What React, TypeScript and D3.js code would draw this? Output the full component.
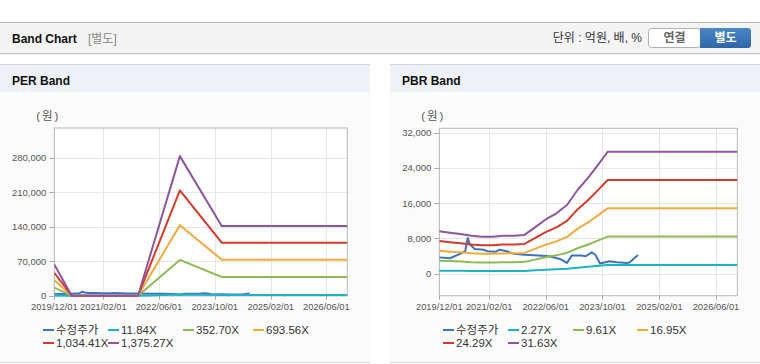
import * as d3 from "d3";

// ---- data ----
const xTickDates = ["2019-12-01", "2021-02-01", "2022-06-01", "2023-10-01", "2025-02-01", "2026-06-01"];
const xTickLabels = ["2019/12/01", "2021/02/01", "2022/06/01", "2023/10/01", "2025/02/01", "2026/06/01"];
const xStart = "2019-12-01";
const xEnd = "2026-12-01";

// 수정주가 (adjusted price)
const priceDates = [
  "2019-12-01", "2020-03-01", "2020-06-01", "2020-07-10", "2020-08-01", "2020-08-20", "2020-10-01",
  "2020-12-15", "2021-01-15", "2021-04-01", "2021-05-01", "2021-07-01", "2021-09-01", "2021-12-01",
  "2022-04-01", "2022-07-01", "2022-10-01", "2022-12-01", "2023-01-10", "2023-04-01", "2023-05-10",
  "2023-07-01", "2023-08-01", "2023-09-10", "2023-12-01", "2024-02-01", "2024-05-01", "2024-05-20",
  "2024-08-01",
];
const priceValues = [
  3700, 3500, 4550, 5100, 8100, 6600, 5600,
  5450, 5100, 5000, 5450, 5100, 4500, 4300,
  4100, 3950, 3350, 2450, 4100, 4100, 3950,
  4850, 4300, 2300, 2800, 2600, 2450, 2550,
  4250,
];

// PER band
const perDates = ["2019-12-01", "2020-05-01", "2021-12-01", "2022-12-01", "2023-12-01", "2026-12-01"];
const per1184 = [550, 0, 0, 2400, 1200, 1200];
const per35270 = [16500, 0, 0, 72500, 38000, 38000];
const per69356 = [31500, 0, 0, 143000, 73000, 73000];
const per103441 = [46500, 0, 0, 213500, 107500, 107500];
const per137527 = [63500, 0, 0, 283000, 141500, 141500];
const perYTicks = [0, 70000, 140000, 210000, 280000];
const perLegend = ["수정주가", "11.84X", "352.70X", "693.56X", "1,034.41X", "1,375.27X"];

// PBR band
const pbrDates = [
  "2019-12-01", "2020-03-01", "2020-06-01", "2020-09-01", "2020-12-01", "2021-03-01", "2021-06-01",
  "2021-09-01", "2021-12-01", "2022-03-01", "2022-06-01", "2022-09-01", "2022-12-01", "2023-03-01",
  "2023-06-01", "2023-09-01", "2023-11-15", "2026-12-01",
];
const pbr227 = [690, 670, 650, 620, 600, 600, 620, 620, 630, 750, 880, 980, 1120, 1360, 1560, 1800, 1990, 1990];
const pbr961 = [2950, 2850, 2750, 2600, 2550, 2550, 2600, 2600, 2680, 3190, 3740, 4160, 4740, 5770, 6620, 7600, 8420, 8420];
const pbr1695 = [5200, 5000, 4850, 4620, 4500, 4500, 4600, 4620, 4720, 5630, 6590, 7340, 8360, 10180, 11680, 13400, 14850, 14850];
const pbr2429 = [7400, 7150, 6900, 6600, 6450, 6450, 6600, 6600, 6760, 8060, 9450, 10520, 11980, 14590, 16740, 19200, 21250, 21250];
const pbr3163 = [9650, 9300, 9000, 8600, 8400, 8400, 8600, 8600, 8800, 10500, 12300, 13700, 15600, 19000, 21800, 25000, 27680, 27680];
const pbrYTicks = [0, 8000, 16000, 24000, 32000];
const pbrLegend = ["수정주가", "2.27X", "9.61X", "16.95X", "24.29X", "31.63X"];

const colors = ["#3b73c0", "#1fb2c6", "#8dba55", "#f2aa3c", "#d23a2b", "#8d559d"];

const FONT = "'Liberation Sans', Arial, 'Noto Sans CJK KR', sans-serif";
const parse = d3.timeParse("%Y-%m-%d");

type Series = { dates: string[]; values: number[] };

type ChartProps = {
  panelX: number;
  title: string;
  left: number;
  right: number;
  top: number;
  bottom: number;
  yDomain: [number, number];
  yTicks: number[];
  series: Series[];
  legend: string[];
  legendCols: number[];
  clipId: string;
};

const Panel = (p: ChartProps) => {
  const x = d3
    .scaleTime()
    .domain([parse(xStart)!, parse(xEnd)!])
    .range([p.left, p.right]);
  const y = d3.scaleLinear().domain(p.yDomain).range([p.bottom, p.top]);
  const line = d3
    .line<[Date, number]>()
    .x((d) => x(d[0]))
    .y((d) => y(d[1]));
  const fmt = d3.format(",");

  return (
    <g fontFamily={FONT}>
      {/* panel frame */}
      <rect x={p.panelX} y={64} width={370} height={298} fill="#fbfbfb" />
      <rect x={p.panelX} y={64.5} width={370} height={27.5} fill="#eef2f7" />
      <line x1={p.panelX} x2={p.panelX + 370} y1={64.5} y2={64.5} stroke="#d6d6d6" />
      <line x1={p.panelX} x2={p.panelX + 370} y1={362.5} y2={362.5} stroke="#dcdcdc" />
      <text x={p.panelX + 12} y={84.5} fontSize={12} fontWeight="bold" fill="#111">
        {p.title}
      </text>

      <text x={p.left - 6} y={120} fontSize={11.5} fill="#555" textAnchor="middle" letterSpacing={2}>
        (원)
      </text>

      {/* grid */}
      <rect x={p.left} y={p.top} width={p.right - p.left} height={p.bottom - p.top} fill="#fff" />
      {xTickDates.map((d) => (
        <line
          key={d}
          x1={Math.round(x(parse(d)!)) + 0.5}
          x2={Math.round(x(parse(d)!)) + 0.5}
          y1={p.top}
          y2={p.bottom}
          stroke="#e6e6e6"
        />
      ))}
      {p.yTicks.map((t) => (
        <line
          key={t}
          x1={p.left}
          x2={p.right}
          y1={Math.round(y(t)) + 0.5}
          y2={Math.round(y(t)) + 0.5}
          stroke="#e6e6e6"
        />
      ))}
      <rect
        x={p.left}
        y={p.top}
        width={p.right - p.left}
        height={p.bottom - p.top}
        fill="none"
        stroke="#b8b8b8"
      />

      {/* y axis */}
      {p.yTicks.map((t) => (
        <g key={t}>
          <line x1={p.left - 5} x2={p.left} y1={Math.round(y(t)) + 0.5} y2={Math.round(y(t)) + 0.5} stroke="#aaa" />
          <text x={p.left - 8} y={y(t) + 3.5} fontSize={9.5} fill="#555" textAnchor="end">
            {fmt(t)}
          </text>
        </g>
      ))}

      {/* x axis */}
      {xTickDates.map((d, i) => (
        <g key={d}>
          <line
            x1={Math.round(x(parse(d)!)) + 0.5}
            x2={Math.round(x(parse(d)!)) + 0.5}
            y1={p.bottom}
            y2={p.bottom + 4}
            stroke="#aaa"
          />
          <text x={x(parse(d)!)} y={p.bottom + 14.5} fontSize={9.3} fill="#555" textAnchor="middle">
            {xTickLabels[i]}
          </text>
        </g>
      ))}

      {/* lines */}
      <clipPath id={p.clipId}>
        <rect x={p.left} y={p.top} width={p.right - p.left} height={p.bottom - p.top + 2} />
      </clipPath>
      <g clipPath={`url(#${p.clipId})`}>
        {p.series.map((s, i) => (
          <path
            key={i}
            d={line(s.dates.map((d, j) => [parse(d)!, s.values[j]] as [Date, number])) || ""}
            fill="none"
            stroke={colors[i]}
            strokeWidth={2}
            strokeLinejoin="round"
          />
        ))}
      </g>

      {/* legend */}
      {p.legend.map((name, i) => {
        const lx = p.legendCols[i % 4];
        const ly = i < 4 ? 330 : 343;
        return (
          <g key={name}>
            <line x1={lx} x2={lx + 11} y1={ly} y2={ly} stroke={colors[i]} strokeWidth={2} />
            <text x={lx + 13} y={ly + 4} fontSize={11.5} fill="#333">
              {name}
            </text>
          </g>
        );
      })}
    </g>
  );
};

const App = () => {
  const priceSeries = { dates: priceDates, values: priceValues };
  const perSeries = [
    priceSeries,
    { dates: perDates, values: per1184 },
    { dates: perDates, values: per35270 },
    { dates: perDates, values: per69356 },
    { dates: perDates, values: per103441 },
    { dates: perDates, values: per137527 },
  ];
  const pbrSeries = [
    priceSeries,
    { dates: pbrDates, values: pbr227 },
    { dates: pbrDates, values: pbr961 },
    { dates: pbrDates, values: pbr1695 },
    { dates: pbrDates, values: pbr2429 },
    { dates: pbrDates, values: pbr3163 },
  ];

  return (
    <svg
      width={760}
      height={364}
      style={{ position: "absolute", left: 0, top: 0, background: "#fff" }}
    >
      <defs>
        <linearGradient id="blueBtn" x1="0" y1="0" x2="0" y2="1">
          <stop offset="0" stopColor="#4b88c8" />
          <stop offset="1" stopColor="#2d66a6" />
        </linearGradient>
      </defs>

      {/* top header bar */}
      <rect x={0} y={22} width={760} height={31} fill="#f4f4f4" />
      <line x1={0} x2={760} y1={22.5} y2={22.5} stroke="#b4b4b4" />
      <line x1={0} x2={760} y1={53.5} y2={53.5} stroke="#c4c4c4" />
      <line x1={0} x2={760} y1={54.5} y2={54.5} stroke="#ececec" />
      <g fontFamily={FONT}>
        <text x={12} y={42.5} fontSize={12} fontWeight="bold" fill="#111">
          Band Chart
        </text>
        <text x={88} y={42.5} fontSize={12} fill="#888">
          [별도]
        </text>
        <text x={642} y={42} fontSize={12} fill="#333" textAnchor="end">
          단위 : 억원, 배, %
        </text>
        <rect x={648.5} y={28.5} width={52} height={19} rx={3} fill="#fff" stroke="#b0b0b0" />
        <text x={674.5} y={42} fontSize={12} fontWeight="bold" fill="#666" textAnchor="middle">
          연결
        </text>
        <rect x={700} y={28} width={51} height={20} rx={3} fill="url(#blueBtn)" />
        <rect x={700} y={28} width={6} height={20} fill="url(#blueBtn)" />
        <text x={725.5} y={42} fontSize={12} fontWeight="bold" fill="#fff" textAnchor="middle">
          별도
        </text>
      </g>

      <Panel
        panelX={0}
        title="PER Band"
        left={54.3}
        right={347.3}
        top={128}
        bottom={295.7}
        yDomain={[0, 340000]}
        yTicks={perYTicks}
        series={perSeries}
        legend={perLegend}
        legendCols={[43, 108, 183, 253]}
        clipId="clipPer"
      />
      <Panel
        panelX={390}
        title="PBR Band"
        left={439.3}
        right={737.3}
        top={128.3}
        bottom={295.7}
        yDomain={[-5000, 33000]}
        yTicks={pbrYTicks}
        series={pbrSeries}
        legend={pbrLegend}
        legendCols={[443, 508, 573, 637]}
        clipId="clipPbr"
      />
    </svg>
  );
};

export default App;
